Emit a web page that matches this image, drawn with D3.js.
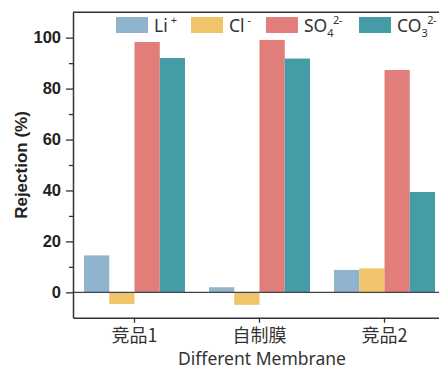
<!DOCTYPE html>
<html>
<head>
<meta charset="utf-8">
<script src="https://cdn.jsdelivr.net/npm/d3@7"></script>
<style>
  html, body { margin: 0; padding: 0; background: #fff; }
  svg { display: block; }
</style>
</head>
<body>
<svg id="chart" width="439" height="369"></svg>
<script>
// Membrane rejection data (%)
const categories = ["竞品1", "自制膜", "竞品2"];
const seriesKeys = ["li", "cl", "so4", "co3"];
const li  = [14.5, 2.0, 8.8];
const cl  = [-4.6, -4.9, 9.4];
const so4 = [98.3, 99.1, 87.3];
const co3 = [92.0, 91.8, 39.4];
const seriesValues = { li, cl, so4, co3 };
const seriesColors = ["#91b4ce", "#f0c46b", "#e27e79", "#459ca6"];
// legend labels as [base, subscript, superscript]
const seriesLabels = [["Li", "", "+"], ["Cl", "", "-"], ["SO", "4", "2-"], ["CO", "3", "2-"]];
const yMajorTicks = [0, 20, 40, 60, 80, 100];
const yMinorTicks = [10, 30, 50, 70, 90];

(function draw() {
const svg = d3.select("#chart");
const plotLeft = 73, plotRight = 446, plotTop = 12.2, plotBottom = 317.8;

const x = d3.scaleBand().domain(categories).range([plotLeft, plotRight])
  .paddingInner(0.192).paddingOuter(0.088);
const xs = d3.scaleBand().domain(seriesKeys).range([0, x.bandwidth()]).padding(0);
const y = d3.scaleLinear().domain([-10, 110]).range([plotBottom, plotTop]);

// bars
const groups = svg.append("g").selectAll("g").data(categories).join("g")
  .attr("transform", d => `translate(${x(d)},0)`);
groups.selectAll("rect")
  .data((c, i) => seriesKeys.map((k, j) => ({ k, v: seriesValues[k][i], color: seriesColors[j] })))
  .join("rect")
  .attr("x", d => xs(d.k))
  .attr("width", xs.bandwidth())
  .attr("y", d => y(Math.max(0, d.v)))
  .attr("height", d => Math.abs(y(d.v) - y(0)))
  .attr("fill", d => d.color);

// zero line
svg.append("line")
  .attr("x1", plotLeft).attr("x2", plotRight)
  .attr("y1", y(0)).attr("y2", y(0))
  .attr("stroke", "#444").attr("stroke-width", 1.3);

// frame top edge
svg.append("line")
  .attr("x1", plotLeft).attr("x2", plotRight)
  .attr("y1", plotTop).attr("y2", plotTop)
  .attr("stroke", "#333").attr("stroke-width", 1.5);

// y axis
const yAxis = svg.append("g").attr("transform", `translate(${plotLeft},0)`)
  .call(d3.axisLeft(y).tickValues(yMajorTicks).tickSize(7).tickPadding(5).tickSizeOuter(0));
svg.append("g").attr("transform", `translate(${plotLeft},0)`)
  .call(d3.axisLeft(y).tickValues(yMinorTicks).tickSize(4).tickFormat("").tickSizeOuter(0))
  .select(".domain").remove();
yAxis.select(".domain").attr("stroke", "#333").attr("stroke-width", 1.5);
svg.selectAll(".tick line").attr("stroke", "#333").attr("stroke-width", 1.3);
yAxis.selectAll(".tick text")
  .attr("font-family", "'Liberation Sans', Arial, sans-serif")
  .attr("font-weight", "bold").attr("font-size", 16.5).attr("fill", "#222");

// x axis
const xAxis = svg.append("g").attr("transform", `translate(0,${plotBottom})`)
  .call(d3.axisBottom(x).tickSize(5).tickPadding(6).tickSizeOuter(0));
xAxis.select(".domain").attr("stroke", "#333").attr("stroke-width", 1.5);
xAxis.selectAll(".tick line").attr("stroke", "#333").attr("stroke-width", 1.3);
xAxis.selectAll(".tick text")
  .attr("font-family", "'Noto Sans CJK SC', sans-serif")
  .attr("font-size", 18).attr("fill", "#333");

// axis titles
svg.append("text")
  .attr("transform", `translate(27,${(plotTop + plotBottom) / 2}) rotate(-90)`)
  .attr("text-anchor", "middle")
  .attr("font-family", "'Liberation Sans', Arial, sans-serif")
  .attr("font-weight", "bold").attr("font-size", 17).attr("fill", "#222")
  .text("Rejection (%)");
svg.append("text")
  .attr("x", 262).attr("y", 365)
  .attr("text-anchor", "middle")
  .attr("font-family", "'Noto Sans', 'Open Sans', sans-serif")
  .attr("font-size", 17.5).attr("fill", "#333")
  .text("Different Membrane");

// legend
const legendX = [116, 191, 266, 359];
const legend = svg.append("g");
seriesLabels.forEach((lab, i) => {
  const g = legend.append("g").attr("transform", `translate(${legendX[i]},17)`);
  g.append("rect").attr("width", 32).attr("height", 16).attr("fill", seriesColors[i]);
  const t = g.append("text").attr("x", 38).attr("y", 14.5)
    .attr("font-family", "'Noto Sans', 'Open Sans', sans-serif")
    .attr("font-size", 17.5).attr("fill", "#333");
  t.append("tspan").text(lab[0]);
  let dy = 0;
  if (lab[1]) {
    t.append("tspan").attr("font-size", 11).attr("dy", 5).text(lab[1]);
    dy = 5;
  }
  t.append("tspan").attr("font-size", 11)
    .attr("dx", lab[1] ? -0.5 : 3)
    .attr("letter-spacing", -0.5)
    .attr("dy", -dy - 8).text(lab[2]);
});
})();
</script>
</body>
</html>
